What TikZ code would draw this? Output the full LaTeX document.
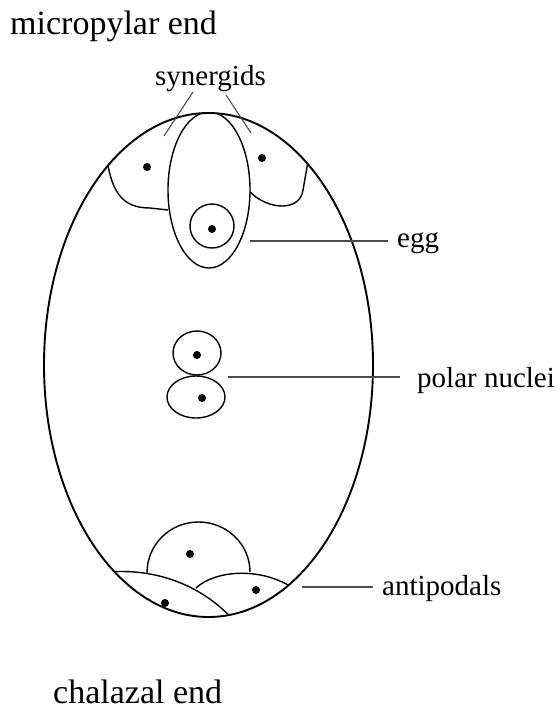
\documentclass[tikz,border=0pt]{standalone}
\usepackage{fontspec}
\setmainfont{Liberation Serif}
\begin{document}
\begin{tikzpicture}[x=1pt,y=-1pt,
  wall/.style={line width=1.9pt},
  cell/.style={line width=1.4pt},
  pointer/.style={line width=1.1pt, black!70},
  tag/.style={font=\fontsize{29}{34}\selectfont, inner sep=0pt, anchor=base west},
  endtag/.style={font=\fontsize{34}{40}\selectfont, inner sep=0pt, anchor=base west}]
\useasboundingbox (0,0) rectangle (557,709);

% centre of the embryo sac
\coordinate (sac) at (208.5,365);

% cells lying against the sac wall, trimmed to the wall
\begin{scope}
  \clip (sac) ellipse [x radius=164.5, y radius=252];
  % egg cell
  \draw[cell] (209,190) ellipse [x radius=41, y radius=78];
  % synergids
  \draw[cell] (106,150) .. controls (110,192) and (122,208) .. (150,208) -- (168,210);
  \draw[cell] (250,192) .. controls (268,210) and (300,212) .. (303,190) -- (310,150);
  % antipodals
  \draw[cell] (100,573) .. controls (150,566) and (205,583) .. (240,628);
  \draw[cell] (196,588) .. controls (215,570) and (265,565) .. (300,593);
  \draw[cell] (147,573) .. controls (147,544.4) and (170.1,522) .. (198.5,522)
                        .. controls (226.9,522) and (250,544.4) .. (250,572);
\end{scope}

% embryo sac wall
\draw[wall] (sac) ellipse [x radius=164.5, y radius=252];

% egg nucleus
\coordinate (eggN) at (212,226);
\draw[cell] (eggN) circle [radius=22];

% polar nuclei
\coordinate (polarA) at (197,353);
\coordinate (polarB) at (196,397);
\draw[cell, fill=white] (polarB) ellipse [x radius=29, y radius=21];
\draw[cell, fill=white] (polarA) ellipse [x radius=24, y radius=22];

% nucleoli
\foreach \p in {(147,167),(262,158),(212,229),(197,355),(202,398),(190,554),(165,603),(256,590)}
  \fill \p circle [radius=4];

% text
\node[endtag] (micro) at (10,35) {micropylar end};
\node[endtag] (chal) at (53,703) {chalazal end};
\node[tag] (syn) at (155,85) {synergids};
\node[tag] (egg) at (397,247) {egg};
\node[tag] (polar) at (417,387) {polar nuclei};
\node[tag] (anti) at (382,595) {antipodals};

% leader lines
\coordinate (synLa) at (193,92);
\coordinate (synLb) at (164,136);
\coordinate (synRa) at (226,95);
\coordinate (synRb) at (251,133);
\coordinate (eggA) at (250,241);
\coordinate (eggB) at (388,241);
\coordinate (polA) at (228,377);
\coordinate (polB) at (400,377);
\coordinate (antA) at (302,587);
\coordinate (antB) at (373,587);
\draw[pointer] (synLa) -- (synLb);
\draw[pointer] (synRa) -- (synRb);
\draw[pointer] (eggA) -- (eggB);
\draw[pointer] (polA) -- (polB);
\draw[pointer] (antA) -- (antB);
\end{tikzpicture}
\end{document}
